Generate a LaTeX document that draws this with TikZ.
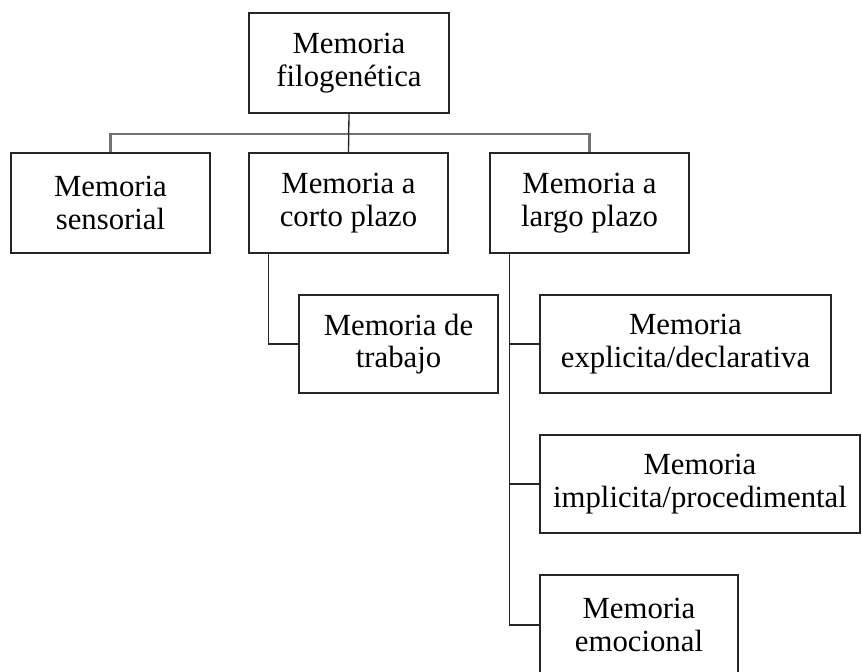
\documentclass[tikz,border=0pt]{standalone}
\usepackage{fontspec}
\setmainfont{Liberation Serif}
\usetikzlibrary{calc}

\begin{document}
\begin{tikzpicture}[x=0.02cm,y=-0.02cm,
  box/.style={draw=black!85,line width=0.8pt,minimum height=2cm,
    align=center,inner sep=0pt,font=\fontsize{17.5}{18.4}\selectfont},
  link/.style={draw=black!85,line width=0.75pt},
  bar/.style={draw=black!55,line width=1.2pt}]
  \useasboundingbox (0,0) rectangle (862,672);
  \clip (0,0) rectangle (862,672);
  % top level
  \node[box,minimum width=4cm] (filo) at (349,63) {Memoria\\filogenética};
  % second level
  \node[box,minimum width=3.98cm] (sens) at (110.5,203) {Memoria\\sensorial};
  \node[box,minimum width=3.98cm] (corto) at (348.5,203) {Memoria a\\corto plazo};
  \node[box,minimum width=3.98cm] (largo) at (589.5,203) {Memoria a\\largo plazo};
  % third level
  \node[box,minimum width=3.98cm,minimum height=1.96cm] (trab) at (398.5,344) {Memoria de\\trabajo};
  \node[box,minimum width=5.82cm,minimum height=1.96cm] (expl) at (685.5,344) {Memoria\\explicita/declarativa};
  \node[box,minimum width=6.4cm,minimum height=1.96cm] (impl) at (700,484) {Memoria\\implicita/procedimental};
  \node[box,minimum width=3.96cm] (emoc) at (639,625) {Memoria\\emocional};
  % connectors
  \coordinate (bus) at ($(filo.south)!0.52!(corto.north)$);
  \draw[bar] (sens.north) |- (bus) -| (largo.north);
  \draw[link] (filo.south) -- (corto.north);
  \coordinate (cspine) at ([xshift=0.4cm]corto.south west);
  \draw[link] (cspine) |- (trab.west);
  \coordinate (lspine) at ([xshift=0.41cm]largo.south west);
  \draw[link] (lspine) |- (emoc.west);
  \foreach \n in {expl,impl}
    \draw[link] (lspine |- \n.west) -- (\n.west);
\end{tikzpicture}
\end{document}
